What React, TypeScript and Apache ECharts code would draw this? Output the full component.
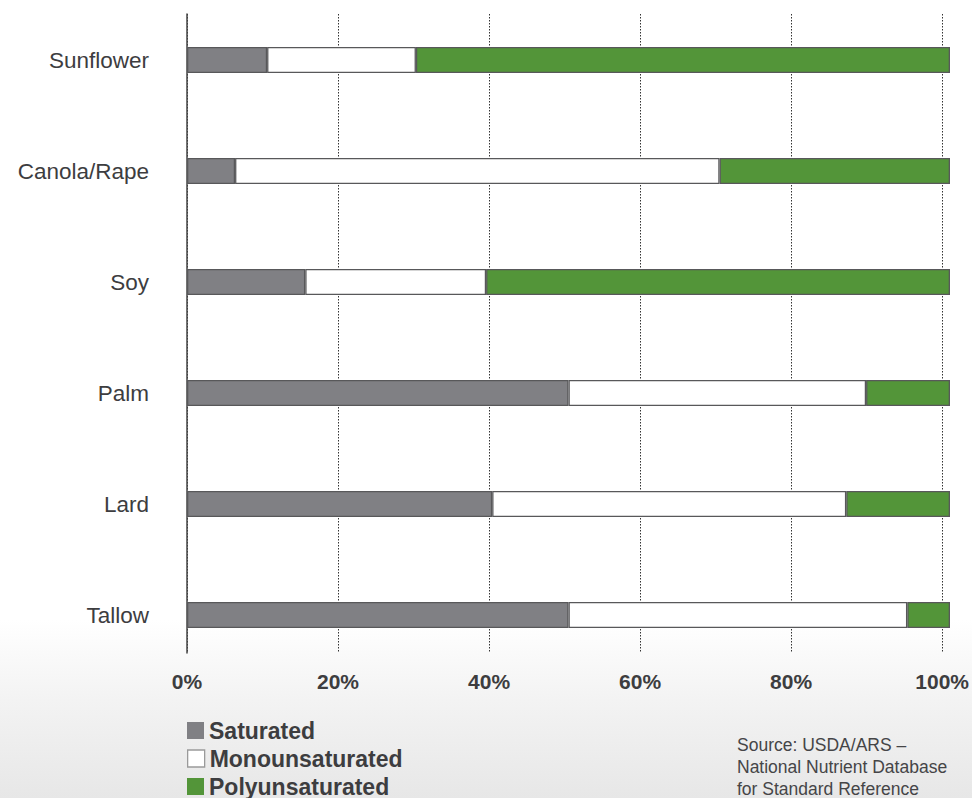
import React, { useEffect, useRef } from "react";
import * as echarts from "echarts";

// Fat composition by source, % of total fat (top to bottom)
const fats = ["Sunflower", "Canola/Rape", "Soy", "Palm", "Lard", "Tallow"];
const saturated = [10.5, 6.3, 15.5, 50, 40, 50];
const monounsaturated = [19.5, 63.5, 23.7, 39, 46.4, 44.4];
const polyunsaturated = [70, 30.2, 60.8, 11, 13.6, 5.6];
const seriesNames = ["Saturated", "Monounsaturated", "Polyunsaturated"];
const percentTicks = [0, 20, 40, 60, 80, 100];
const sourceLines = [
  "Source: USDA/ARS –",
  "National Nutrient Database",
  "for Standard Reference",
];

const FONT = "'Liberation Sans', Arial, Helvetica, sans-serif";
const INK = "#3d3d3f";
const GREY = "#808084";
const GREEN = "#539539";
const EDGE = "#58585a";

export default function App() {
  const ref = useRef<HTMLDivElement>(null);

  useEffect(() => {
    if (!ref.current) return;
    const chart = echarts.init(ref.current, undefined, { renderer: "svg" });

    const barSeries = (name: string, data: number[], color: string, edge: string) => ({
      name,
      type: "bar",
      stack: "fat",
      xAxisIndex: 1,
      yAxisIndex: 1,
      barWidth: 26,
      data,
      itemStyle: { color, borderColor: edge, borderWidth: 1.3 },
      emphasis: { disabled: true },
    });

    // one legend row per series, stacked down the left edge
    const legendBorders = [
      { borderWidth: 0 },
      { borderColor: "#9a9a9a", borderWidth: 1.3 },
      { borderWidth: 0 },
    ];
    const legends = seriesNames.map((name, i) => ({
      orient: "horizontal",
      left: 187,
      top: 719 + i * 28,
      padding: 0,
      itemWidth: 17,
      itemHeight: 17,
      selectedMode: false,
      icon: "rect",
      textStyle: {
        fontSize: 23,
        fontWeight: "bold",
        color: INK,
        fontFamily: FONT,
        lineHeight: 17,
      },
      data: [{ name, itemStyle: legendBorders[i] }],
    }));

    chart.setOption({
      animation: false,
      backgroundColor: "transparent",
      textStyle: { fontFamily: FONT },
      grid: [
        // frame with the percentage scale and the dotted guides
        { left: 187, top: 14, width: 763, height: 639 },
        // band that holds the stacked bars
        { left: 187, top: 4.5, width: 763, height: 666 },
      ],
      xAxis: [
        {
          type: "value",
          gridIndex: 0,
          min: 0,
          max: 100,
          interval: 20,
          axisLine: { show: false },
          axisTick: { show: false },
          splitLine: {
            show: true,
            lineStyle: { color: "#333", width: 1, type: [1.5, 1.5] },
          },
          axisLabel: {
            margin: 18,
            fontSize: 21,
            fontWeight: "bold",
            color: INK,
            fontFamily: FONT,
            formatter: (v: number) =>
              percentTicks.includes(v) ? `${v}%` : "",
          },
        },
        {
          type: "value",
          gridIndex: 1,
          min: 0,
          max: 100,
          show: false,
        },
      ],
      yAxis: [
        {
          type: "value",
          gridIndex: 0,
          min: 0,
          max: 1,
          axisLine: { show: true, onZero: false, lineStyle: { color: "#444", width: 1.5 } },
          axisTick: { show: false },
          axisLabel: { show: false },
          splitLine: { show: false },
        },
        {
          type: "category",
          gridIndex: 1,
          inverse: true,
          data: fats,
          axisLine: { show: false },
          axisTick: { show: false },
          axisLabel: {
            margin: 38,
            fontSize: 22.5,
            color: INK,
            fontFamily: FONT,
          },
        },
      ],
      legend: legends,
      series: [
        barSeries(seriesNames[0], saturated, GREY, EDGE),
        barSeries(seriesNames[1], monounsaturated, "#ffffff", EDGE),
        barSeries(seriesNames[2], polyunsaturated, GREEN, EDGE),
      ],
      graphic: [
        {
          type: "text",
          left: 737,
          top: 734,
          style: {
            text: sourceLines.join("\n"),
            fontSize: 17.5,
            lineHeight: 22,
            fill: "#454547",
            fontFamily: FONT,
          },
        },
      ],
    });

    return () => chart.dispose();
  }, []);

  return (
    <div
      style={{
        position: "fixed",
        left: 0,
        top: 0,
        width: 972,
        height: 798,
        background:
          "linear-gradient(to bottom, #ffffff 0px, #ffffff 620px, #f3f3f3 700px, #e7e7e7 798px)",
      }}
    >
      <div ref={ref} style={{ width: 972, height: 798 }} />
    </div>
  );
}
